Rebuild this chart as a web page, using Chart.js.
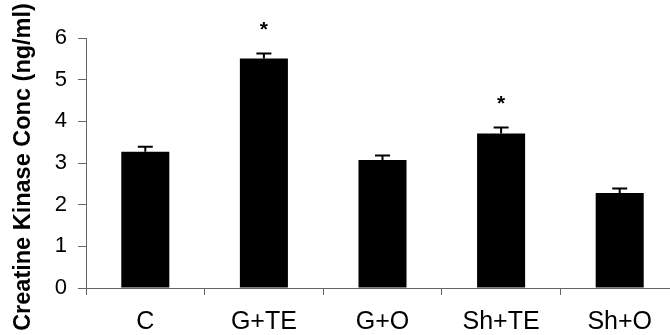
<!DOCTYPE html>
<html>
<head>
<meta charset="utf-8">
<script src="https://cdn.jsdelivr.net/npm/chart.js@4.4.1/dist/chart.umd.min.js"></script>
<style>
  html, body { margin: 0; padding: 0; background: #fff; overflow: hidden; }
  #wrap { width: 680px; height: 335px; }
</style>
</head>
<body>
<div id="wrap"><canvas id="ckChart" width="680" height="335"></canvas></div>
<script>
// Chart data
const categories = ["C", "G+TE", "G+O", "Sh+TE", "Sh+O"];
const meanValues = [3.27, 5.51, 3.07, 3.71, 2.28];
const errorValues = [0.12, 0.12, 0.11, 0.14, 0.11];
const markers = ["", "*", "", "*", ""];
const yTicks = [0, 1, 2, 3, 4, 5, 6];
const yTitle = "Creatine Kinase Conc (ng/ml)";

const axisColor = "#666";

// Draw the upward error bars and the significance stars
const errorBarPlugin = {
  id: "errorBars",
  afterDatasetsDraw(chart) {
    const ctx = chart.ctx;
    const meta = chart.getDatasetMeta(0);
    const yScale = chart.scales.y;
    ctx.save();
    ctx.strokeStyle = "#000";
    ctx.lineWidth = 2;
    meta.data.forEach((bar, i) => {
      const top = yScale.getPixelForValue(meanValues[i] + errorValues[i]);
      ctx.beginPath();
      ctx.moveTo(bar.x, bar.y);
      ctx.lineTo(bar.x, top);
      ctx.moveTo(bar.x - 7.5, top);
      ctx.lineTo(bar.x + 7.5, top);
      ctx.stroke();
      if (markers[i]) {
        ctx.fillStyle = "#000";
        ctx.font = "bold 21px 'Liberation Sans', Arial, sans-serif";
        ctx.textAlign = "center";
        ctx.textBaseline = "middle";
        ctx.fillText(markers[i], bar.x, top - 23);
      }
    });
    ctx.restore();
  }
};

// Y axis title, placed a little lower than the chart area centre like the original
const yTitlePlugin = {
  id: "yTitle",
  afterDraw(chart) {
    const ctx = chart.ctx;
    ctx.save();
    ctx.translate(24, 167);
    ctx.rotate(-Math.PI / 2);
    ctx.fillStyle = "#000";
    ctx.font = "bold 23.5px 'Liberation Sans', Arial, sans-serif";
    ctx.textAlign = "center";
    ctx.textBaseline = "middle";
    ctx.fillText(yTitle, 0, 0);
    ctx.restore();
  }
};

const ctx = document.getElementById("ckChart");
new Chart(ctx, {
  type: "bar",
  data: {
    labels: categories,
    datasets: [{
      data: meanValues,
      backgroundColor: "#000",
      borderWidth: 0,
      barPercentage: 0.405,
      categoryPercentage: 1
    }]
  },
  options: {
    responsive: false,
    animation: false,
    layout: { padding: { top: 38, right: 1, left: 0, bottom: 0 } },
    plugins: { legend: { display: false }, tooltip: { enabled: false } },
    scales: {
      x: {
        offset: true,
        grid: { offset: true, drawOnChartArea: false, drawTicks: true, tickLength: 7, color: axisColor },
        border: { color: axisColor, width: 1 },
        ticks: {
          color: "#000",
          padding: 12,
          font: { family: "'Liberation Sans', Arial, sans-serif", size: 25 }
        },
        afterFit(scale) { scale.height = 47; }
      },
      y: {
        min: 0,
        max: 6,
        afterBuildTicks(scale) { scale.ticks = yTicks.map(v => ({ value: v })); },
        grid: { drawOnChartArea: false, drawTicks: true, tickLength: 8, color: axisColor },
        border: { color: axisColor, width: 1 },
        ticks: {
          color: "#000",
          padding: 11,
          font: { family: "'Liberation Sans', Arial, sans-serif", size: 22 }
        },
        afterFit(scale) { scale.width = 86; }
      }
    }
  },
  plugins: [errorBarPlugin, yTitlePlugin]
});
</script>
</body>
</html>
